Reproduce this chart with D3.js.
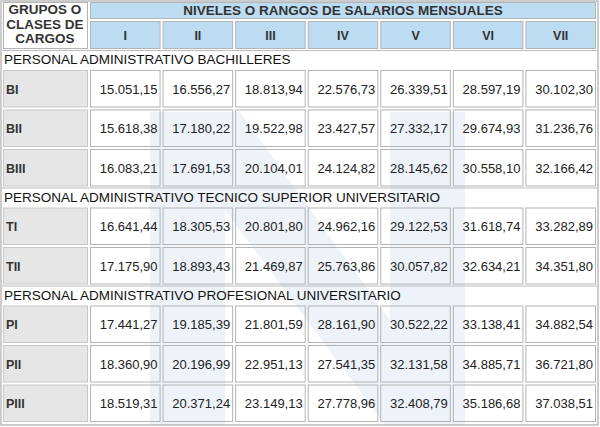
<!DOCTYPE html><html><head><meta charset="utf-8"><script src="https://cdn.jsdelivr.net/npm/d3@7"></script>
<style>body{margin:0;background:#fff}</style></head><body><svg id="c" width="600" height="427"></svg>
<script>
const levels=["I","II","III","IV","V","VI","VII"];
const sections=["PERSONAL ADMINISTRATIVO BACHILLERES","PERSONAL ADMINISTRATIVO TECNICO SUPERIOR UNIVERSITARIO","PERSONAL ADMINISTRATIVO PROFESIONAL UNIVERSITARIO"];
const groups=[["BI","BII","BIII"],["TI","TII"],["PI","PII","PIII"]];
const values={
BI:["15.051,15","16.556,27","18.813,94","22.576,73","26.339,51","28.597,19","30.102,30"],
BII:["15.618,38","17.180,22","19.522,98","23.427,57","27.332,17","29.674,93","31.236,76"],
BIII:["16.083,21","17.691,53","20.104,01","24.124,82","28.145,62","30.558,10","32.166,42"],
TI:["16.641,44","18.305,53","20.801,80","24.962,16","29.122,53","31.618,74","33.282,89"],
TII:["17.175,90","18.893,43","21.469,87","25.763,86","30.057,82","32.634,21","34.351,80"],
PI:["17.441,27","19.185,39","21.801,59","28.161,90","30.522,22","33.138,41","34.882,54"],
PII:["18.360,90","20.196,99","22.951,13","27.541,35","32.131,58","34.885,71","36.721,80"],
PIII:["18.519,31","20.371,24","23.149,13","27.778,96","32.408,79","35.186,68","37.038,51"]};
const svg=d3.select("#c");
const x=d3.scaleBand().domain(levels).range([89,597]).paddingInner(0);
const font="Arial, 'Liberation Sans', sans-serif";
svg.append("rect").attr("x",0).attr("y",0).attr("width",600).attr("height",427).attr("fill","#fff");
const wm=svg.append("g").attr("fill","#edf3f9");
wm.append("path").attr("d","M150 112 L240 112 L390 320 L390 112 L465 112 L465 425 L385 425 L225 210 L225 425 L150 425 Z");
svg.append("rect").attr("x",1).attr("y",1).attr("width",597).attr("height",424).attr("fill","none").attr("stroke","#999");
const hdr="#bcdcf2";
function cell(x0,y0,w,h,fill){svg.append("rect").attr("x",x0+1.5).attr("y",y0+1.5).attr("width",w-3).attr("height",h-3).attr("fill",fill).attr("stroke","#b4b4b4").attr("stroke-width",1);}
cell(2,1,87,49,"#fff");
svg.append("g").selectAll("text").data(["GRUPOS O","CLASES DE","CARGOS"]).join("text").attr("x",45).attr("y",(d,i)=>14+i*14.5).attr("text-anchor","middle").attr("font-family",font).attr("font-weight","bold").attr("font-size",13.5).attr("fill","#333").text(d=>d);
cell(89,1,508,19,hdr);
svg.append("text").attr("x",343).attr("y",15).attr("text-anchor","middle").attr("font-family",font).attr("font-weight","bold").attr("font-size",13.5).attr("fill","#333").text("NIVELES O RANGOS DE SALARIOS MENSUALES");
levels.forEach(l=>{cell(x(l),20,x.bandwidth(),30,hdr);
svg.append("text").attr("x",x(l)+x.bandwidth()/2).attr("y",40).attr("text-anchor","middle").attr("font-family",font).attr("font-weight","bold").attr("font-size",12.5).attr("fill","#333").text(l);});
let y=50;
sections.forEach((s,si)=>{
 svg.append("line").attr("x1",2).attr("x2",597).attr("y1",y+0.5).attr("y2",y+0.5).attr("stroke","#bbb");
 svg.append("text").attr("x",4).attr("y",y+14).attr("font-family",font).attr("font-size",13.5).attr("fill","#111").text(s);
 y+=19;
 groups[si].forEach(g=>{
  const h=39.5;
  svg.append("rect").attr("x",3.5).attr("y",y+1.5).attr("width",84).attr("height",h-3).attr("fill","#e6e6e6").attr("stroke","#c8c8c8");
  svg.append("text").attr("x",6).attr("y",y+h/2+5).attr("font-family",font).attr("font-weight","bold").attr("font-size",12.5).attr("fill","#333").text(g);
  levels.forEach((l,i)=>{
   svg.append("rect").attr("x",x(l)+1.5).attr("y",y+1.5).attr("width",x.bandwidth()-3).attr("height",h-3).attr("fill","none").attr("stroke","#b4b4b4");
   svg.append("text").attr("x",x(l)+x.bandwidth()-4).attr("y",y+h/2+5).attr("text-anchor","end").attr("font-family",font).attr("font-size",13).attr("fill","#222").text(values[g][i]);
  });
  y+=h;
 });
});
</script></body></html>
